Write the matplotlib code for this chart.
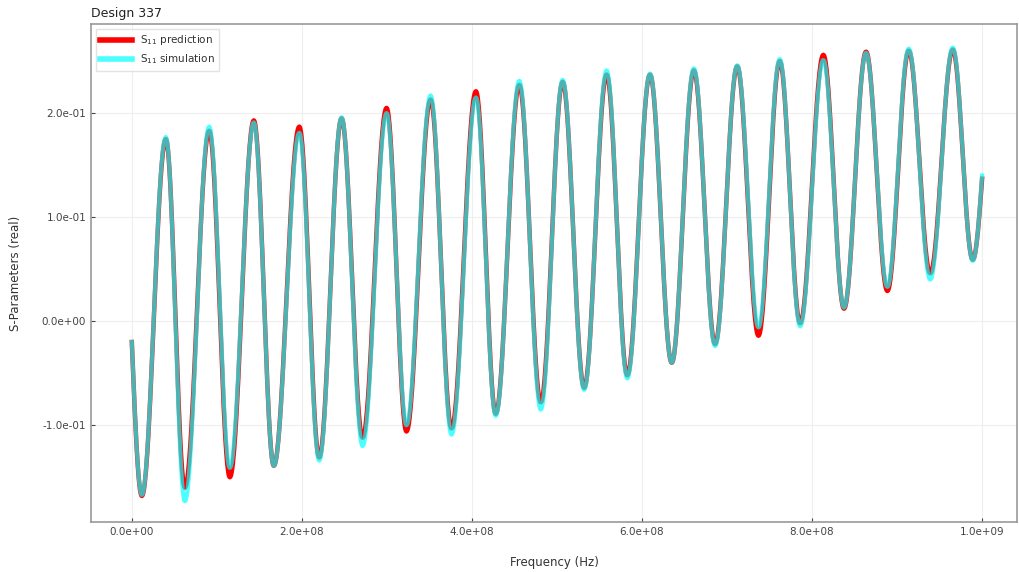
import numpy as np
import matplotlib
matplotlib.use("Agg")
import matplotlib.pyplot as plt
from matplotlib.ticker import FormatStrFormatter

# Turning points of the real part of S11 (start, troughs/peaks alternating, end)
freq_ext = np.array([0.0, 0.0118, 0.040, 0.0624, 0.091, 0.1153, 0.1435, 0.167, 0.197,
                     0.2204, 0.2467, 0.2714, 0.2996, 0.323, 0.3514, 0.376, 0.4047,
                     0.428, 0.4557, 0.481, 0.5067, 0.532, 0.5584, 0.5827, 0.6094,
                     0.635, 0.661, 0.686, 0.712, 0.737, 0.762, 0.786, 0.8133,
                     0.8376, 0.8635, 0.8886, 0.9137, 0.939, 0.9655, 0.989, 1.0]) * 1e9

s11_sim = [-0.020, -0.167, 0.177, -0.173, 0.187, -0.141, 0.191, -0.139, 0.181,
           -0.134, 0.196, -0.120, 0.200, -0.100, 0.217, -0.109, 0.215,
           -0.091, 0.231, -0.085, 0.232, -0.066, 0.241, -0.055, 0.238,
           -0.040, 0.243, -0.024, 0.246, -0.006, 0.252, -0.005, 0.251,
           0.013, 0.258, 0.033, 0.262, 0.040, 0.263, 0.058, 0.140]

s11_pred = [-0.020, -0.168, 0.175, -0.160, 0.183, -0.150, 0.193, -0.139, 0.187,
            -0.131, 0.195, -0.112, 0.205, -0.106, 0.213, -0.103, 0.221,
            -0.089, 0.227, -0.078, 0.230, -0.064, 0.237, -0.052, 0.237,
            -0.040, 0.241, -0.022, 0.245, -0.014, 0.250, -0.002, 0.256,
            0.012, 0.259, 0.029, 0.260, 0.046, 0.261, 0.059, 0.137]

design_id = 337


def trace(fx, vals, n=40):
    # smooth sweep through the turning points (cosine shape between extrema)
    xs, ys = [], []
    last = len(fx) - 2
    for i in range(len(fx) - 1):
        t = np.linspace(0, 1, n, endpoint=False)
        a, b = vals[i], vals[i + 1]
        if i == 0:
            w = np.sin(np.pi / 2 * t)
        elif i == last:
            w = 1 - np.cos(np.pi / 2 * t)
        else:
            w = (1 - np.cos(np.pi * t)) / 2
        xs.append(fx[i] + (fx[i + 1] - fx[i]) * t)
        ys.append(a + (b - a) * w)
    xs.append([fx[-1]])
    ys.append([vals[-1]])
    return np.concatenate(xs), np.concatenate(ys)


f_pred, y_pred = trace(freq_ext, s11_pred)
f_sim, y_sim = trace(freq_ext, s11_sim)

fig = plt.figure(figsize=(10.19, 5.72), dpi=100)
ax = fig.add_axes([0.0893, 0.0874, 0.9087, 0.8706])

ax.plot(f_pred, y_pred, color="red", linewidth=3.2, label="S$_{11}$ prediction")
ax.plot(f_sim, y_sim, color="cyan", linewidth=3.0, alpha=0.7, label="S$_{11}$ simulation")

ax.set_xlim(-0.048e9, 1.041e9)
ax.set_ylim(-0.193, 0.2856)
ax.set_xticks(np.arange(0, 1.01e9, 2e8))
ax.set_yticks([-0.1, 0.0, 0.1, 0.2])
ax.xaxis.set_major_formatter(FormatStrFormatter("%.1e"))
ax.yaxis.set_major_formatter(FormatStrFormatter("%.1e"))
ax.tick_params(direction="in", labelsize=7.5, colors="#444444", length=3)
ax.grid(color="#eeeeee", linewidth=0.8)
for s in ax.spines.values():
    s.set_color("#999999")
    s.set_linewidth(1.2)

ax.set_xlabel("Frequency (Hz)", fontsize=8.5, color="#333333", labelpad=14)
ax.set_ylabel("S-Parameters (real)", fontsize=8.5, color="#333333", labelpad=14)
ax.set_title("Design " + str(design_id), loc="left", fontsize=9, color="#222222", pad=5)

leg = ax.legend(loc="upper left", fontsize=7.5, frameon=True, fancybox=False,
                edgecolor="#dddddd", handlelength=3)
for h in leg.get_lines():
    h.set_linewidth(4)
for txt in leg.get_texts():
    txt.set_color("#333333")

fig.savefig("out.png", dpi=100)
